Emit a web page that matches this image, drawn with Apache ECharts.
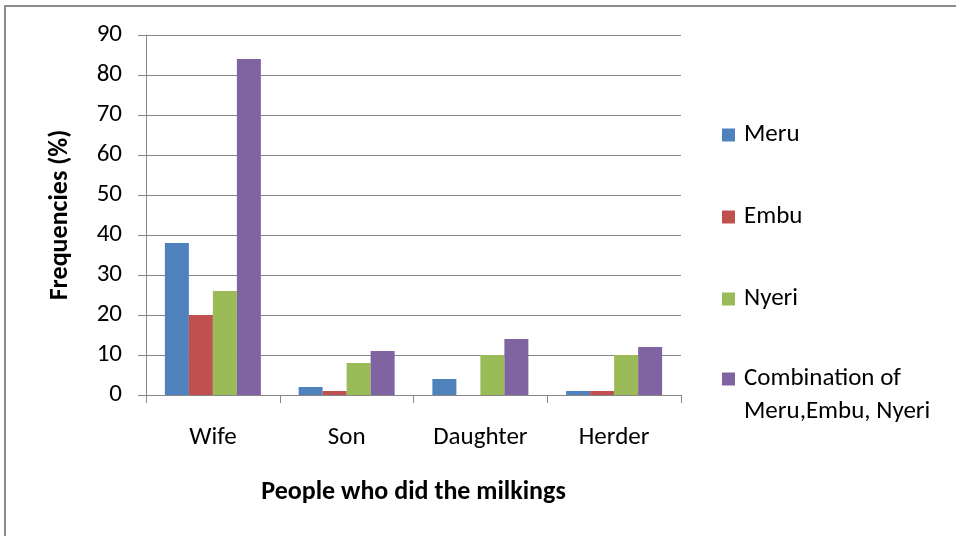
<!DOCTYPE html>
<html>
<head>
<meta charset="utf-8">
<script src="https://cdn.jsdelivr.net/npm/echarts@6/dist/echarts.min.js"></script>
<style>
  html, body { margin: 0; padding: 0; background: #fff; }
  #chart { width: 956px; height: 536px; }
</style>
</head>
<body>
<div id="chart"></div>
<script>
// Who did the milking, by district (percent of respondents)
const categories = ['Wife', 'Son', 'Daughter', 'Herder'];
const seriesNames = ['Meru', 'Embu', 'Nyeri', 'Combination of Meru,Embu, Nyeri'];
const meru = [38, 2, 4, 1];
const embu = [20, 1, 0, 1];
const nyeri = [26, 8, 10, 10];
const combined = [84, 11, 14, 12];
const yTicks = { min: 0, max: 90, interval: 10 };

const values = [meru, embu, nyeri, combined];
const colors = ['#4F81BD', '#C0504D', '#9BBB59', '#8064A2'];
const FONT = 'Carlito, Calibri, Lato, sans-serif';
const LINE = 33;

const chart = echarts.init(document.getElementById('chart'), null, { renderer: 'canvas' });

// One legend per series so each entry sits at its own height; the last
// entry wraps onto two lines with the swatch beside the first line.
const legendTops = [135, 217, 299, 379].map((c, i) => i === 3 ? c - LINE * 1.5 : c - LINE / 2);
const legends = seriesNames.map((name, i) => {
  const multi = i === 3;
  return {
    data: [name],
    orient: 'vertical',
    left: 722,
    top: legendTops[i],
    padding: 0,
    itemWidth: 13,
    itemHeight: 13,
    icon: 'rect',
    selectedMode: false,
    formatter: multi ? () => '\nCombination of\nMeru,Embu, Nyeri' : '{name}',
    textStyle: {
      fontFamily: FONT,
      fontSize: 25,
      color: '#000',
      lineHeight: LINE,
      padding: [0, 0, 0, 4]
    }
  };
});

const option = {
  animation: false,
  color: colors,
  graphic: [{
    type: 'rect',
    shape: { x: 5, y: 6, width: 1000, height: 600 },
    style: { fill: 'none', stroke: '#8c8c8c', lineWidth: 2 },
    silent: true
  }],
  grid: { left: 146, right: 275, top: 35, bottom: 141 },
  legend: legends,
  xAxis: {
    type: 'category',
    data: categories,
    name: 'People who did the milkings',
    nameLocation: 'middle',
    nameGap: 84,
    nameTextStyle: { fontFamily: FONT, fontSize: 26, fontWeight: 'bold', color: '#000' },
    axisLine: { lineStyle: { color: '#868686', width: 1 } },
    axisTick: { show: true, length: 8, lineStyle: { color: '#868686' } },
    axisLabel: { fontFamily: FONT, fontSize: 25, color: '#000', margin: 30 }
  },
  yAxis: {
    type: 'value',
    min: yTicks.min,
    max: yTicks.max,
    interval: yTicks.interval,
    name: 'Frequencies (%)',
    nameLocation: 'middle',
    nameGap: 73,
    nameRotate: 90,
    nameTextStyle: { fontFamily: FONT, fontSize: 26, fontWeight: 'bold', color: '#000' },
    axisLine: { show: true, lineStyle: { color: '#868686', width: 1 } },
    axisTick: { show: true, length: 8, lineStyle: { color: '#868686' } },
    axisLabel: { fontFamily: FONT, fontSize: 25, color: '#000', margin: 24 },
    splitLine: { show: true, lineStyle: { color: '#868686', width: 1 } }
  },
  series: seriesNames.map((name, i) => ({
    type: 'bar',
    name: name,
    data: values[i],
    barWidth: 24,
    barGap: '0%',
    itemStyle: { color: colors[i] }
  }))
};

chart.setOption(option);
</script>
</body>
</html>
